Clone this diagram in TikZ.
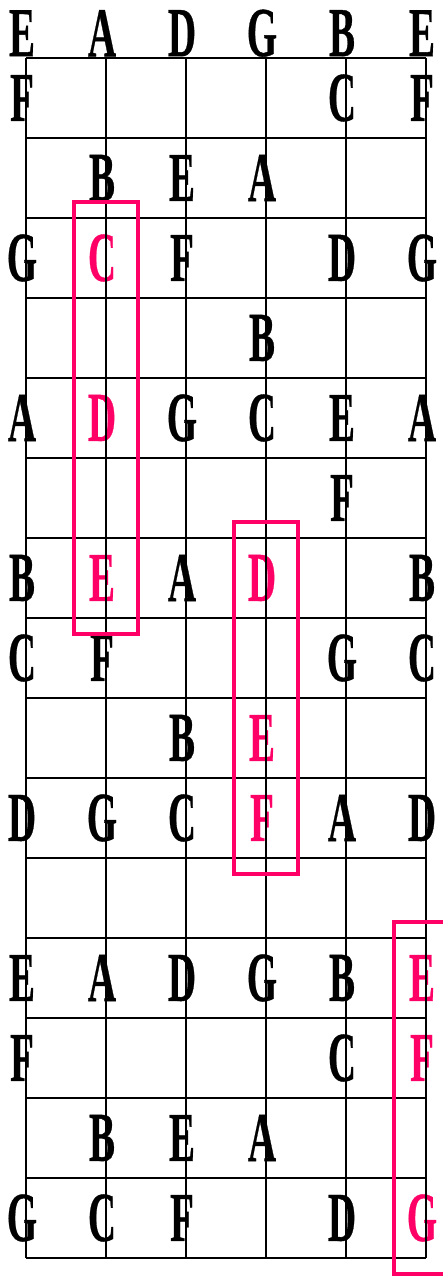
\documentclass[tikz,border=0pt]{standalone}
\usepackage{fontspec}
\setmainfont{Liberation Serif}
\newfontfamily\notefont[BoldFeatures={FakeBold=0.6}]{Liberation Serif}
\definecolor{notered}{RGB}{255, 0, 102}
\newcommand{\tallnote}[1]{\scalebox{1}[1.8]{#1}}

\begin{document}
\begin{tikzpicture}[x=80pt, y=-80pt,
        note/.style={inner sep=0pt, xshift=-4pt,
            font=\notefont\fontsize{39}{39}\selectfont\bfseries},
        hinote/.style={note, text=notered},
        fretline/.style={line width=1.8pt},
        markbox/.style={draw=notered, line width=3.2pt}
    ]
    \clip (-0.325,-0.725) rectangle (5.2125,15.225);

    % open strings
    \foreach \s/\n in {0/E,1/A,2/D,3/G,4/B,5/E}
        \node[note] (o-\s) at (\s,-0.31) {\tallnote{\n}};

    % fretted notes
    \foreach \f/\s/\n in {1/0/F,1/4/C,1/5/F,
                          2/1/B,2/2/E,2/3/A,
                          3/0/G,3/2/F,3/4/D,3/5/G,
                          4/3/B,
                          5/0/A,5/2/G,5/3/C,5/4/E,5/5/A,
                          6/4/F,
                          7/0/B,7/2/A,7/5/B,
                          8/0/C,8/1/F,8/4/G,8/5/C,
                          9/2/B,
                          10/0/D,10/1/G,10/2/C,10/4/A,10/5/D,
                          12/0/E,12/1/A,12/2/D,12/3/G,12/4/B,
                          13/0/F,13/4/C,
                          14/1/B,14/2/E,14/3/A,
                          15/0/G,15/1/C,15/2/F,15/4/D}
        \node[note] (n\f-\s) at (\s,\f-0.5) {\tallnote{\n}};

    % highlighted notes
    \foreach \f/\s/\n in {3/1/C,5/1/D,7/1/E,
                          7/3/D,9/3/E,10/3/F,
                          12/5/E,13/5/F,15/5/G}
        \node[hinote] (n\f-\s) at (\s,\f-0.5) {\tallnote{\n}};

    % frets and strings
    \foreach \f in {0,...,15}
        \draw[fretline] (0,\f) -- (5,\f);
    \foreach \s in {0,...,5}
        \draw[fretline] (\s,0) -- (\s,15);

    % shapes
    \draw[markbox] (0.6,1.8) rectangle (1.4,7.2);
    \draw[markbox] (2.6,5.8) rectangle (3.4,10.2);
    \draw[markbox] (4.6,10.8) rectangle (5.6,15.2);

\end{tikzpicture}
\end{document}
